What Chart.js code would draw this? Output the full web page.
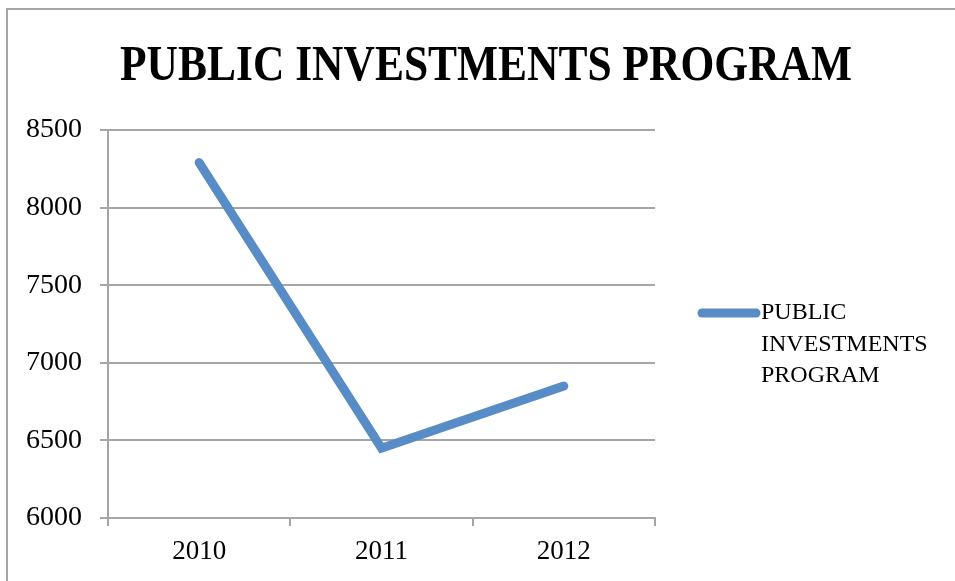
<!DOCTYPE html>
<html>
<head>
<meta charset="utf-8">
<script src="https://cdn.jsdelivr.net/npm/chart.js@4"></script>
<style>
  html, body { margin: 0; padding: 0; background: #fff; }
  #wrap { position: relative; width: 955px; height: 581px; overflow: hidden; }
  #frame {
    position: absolute; left: 6px; top: 8px; width: 1000px; height: 600px;
    border-left: 2px solid #a6a6a6; border-top: 2px solid #a6a6a6;
  }
  canvas { position: absolute; left: 0; top: 0; }
</style>
</head>
<body>
<div id="wrap">
  <div id="frame"></div>
  <canvas id="chart" width="955" height="581"></canvas>
</div>
<script>
// data
const years = ["2010", "2011", "2012"];
const investments = [8290, 6450, 6850];
const yMin = 6000;
const yMax = 8500;
const yStep = 500;
const chartTitle = "PUBLIC INVESTMENTS PROGRAM";
const seriesName = "PUBLIC INVESTMENTS PROGRAM";

const FONT = '"Liberation Serif", "DejaVu Serif", serif';
const BLUE = "#588cc6";
const GRID = "#a6a6a6";

// title squeezed to a fixed width, like the condensed heading face
const titlePlugin = {
  id: "squeezedTitle",
  afterDraw(chart) {
    const ctx = chart.ctx;
    ctx.save();
    ctx.font = "bold 50px " + FONT;
    const w = ctx.measureText(chartTitle).width;
    const sx = 732 / w;
    ctx.translate(486, 67);
    ctx.scale(sx, 1);
    ctx.fillStyle = "#000";
    ctx.textAlign = "center";
    ctx.textBaseline = "middle";
    ctx.fillText(chartTitle, 0, 0);
    ctx.restore();
  },
};

// legend on the right with the series name wrapped over several lines
const sideLegend = {
  id: "sideLegend",
  afterDraw(chart) {
    const ctx = chart.ctx;
    const ds = chart.data.datasets[0];
    const x = chart.chartArea.right + 47;
    const y = 313;
    ctx.save();
    ctx.strokeStyle = ds.borderColor;
    ctx.lineWidth = 9;
    ctx.lineCap = "round";
    ctx.beginPath();
    ctx.moveTo(x, y);
    ctx.lineTo(x + 54, y);
    ctx.stroke();
    ctx.font = "24px " + FONT;
    ctx.fillStyle = "#000";
    ctx.textBaseline = "middle";
    ds.label.split(" ").forEach((word, i) => {
      ctx.fillText(word, x + 59, y + i * 31.5);
    });
    ctx.restore();
  },
};

new Chart(document.getElementById("chart"), {
  type: "line",
  data: {
    labels: years,
    datasets: [{
      label: seriesName,
      data: investments,
      borderColor: BLUE,
      backgroundColor: BLUE,
      borderWidth: 9,
      borderCapStyle: "round",
      borderJoinStyle: "miter",
      tension: 0,
      pointRadius: 0,
      pointHoverRadius: 0,
      fill: false,
    }],
  },
  options: {
    responsive: false,
    animation: false,
    events: [],
    layout: {
      padding: { left: 0, right: 300, top: 130, bottom: 0 },
    },
    scales: {
      x: {
        offset: true,
        grid: {
          offset: true,
          drawOnChartArea: false,
          drawTicks: true,
          tickLength: 8,
          color: GRID,
          lineWidth: 2,
        },
        border: { color: GRID, width: 2 },
        ticks: {
          color: "#000",
          padding: 10,
          font: { family: FONT, size: 27 },
        },
        afterFit(scale) { scale.height = 63; },
      },
      y: {
        min: yMin,
        max: yMax,
        grid: {
          color: GRID,
          lineWidth: 2,
          tickLength: 8,
        },
        border: { color: GRID, width: 2 },
        ticks: {
          stepSize: yStep,
          color: "#000",
          padding: 18,
          font: { family: FONT, size: 28 },
          callback: (v) => String(v),
        },
        afterFit(scale) { scale.width = 108; },
      },
    },
    plugins: {
      legend: { display: false },
      title: { display: false },
      tooltip: { enabled: false },
    },
  },
  plugins: [titlePlugin, sideLegend],
});
</script>
</body>
</html>
